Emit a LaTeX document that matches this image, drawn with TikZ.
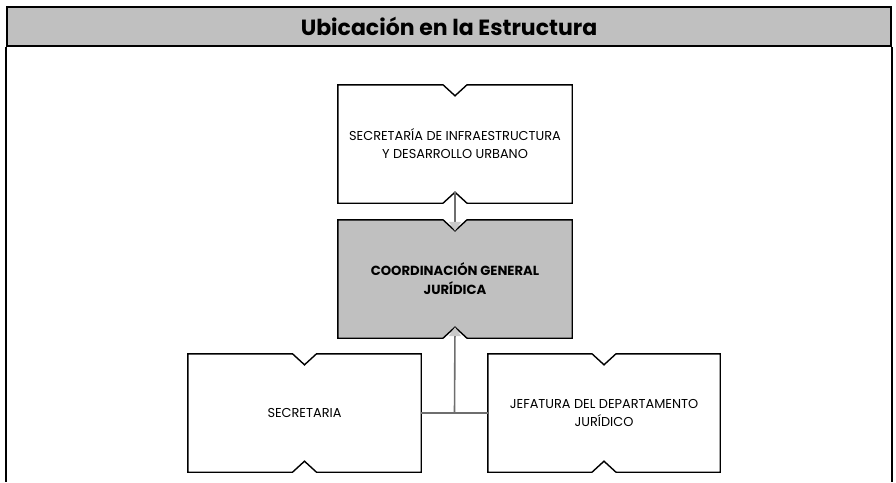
\documentclass[tikz,border=0pt]{standalone}
\usepackage{fontspec}
\setmainfont{Poppins}
\usetikzlibrary{calc,backgrounds,arrows.meta}
\definecolor{gris}{HTML}{C0C0C0}
\definecolor{lineagris}{HTML}{6E6E6E}
\tikzset{
    puesto/.style={minimum width=234pt, minimum height=118pt, inner sep=0pt, align=center,
        font=\fontsize{12.9}{18}\selectfont},
    conector/.style={draw=lineagris, line width=1.6pt},
    flecha/.style={-{Triangle[width=12pt,length=9pt,fill=gris!85,color=gris!85]}},
}

\begin{document}
\begin{tikzpicture}[x=1pt,y=-1pt]
\useasboundingbox (0,0) rectangle (896,482);
\node[draw, fill=gris, line width=1.6pt, minimum width=884pt, minimum height=39pt, inner sep=0pt,
    font=\fontsize{22}{24}\selectfont\bfseries] (titulo) at (449,26.5) {Ubicación en la Estructura};
\draw[line width=1.6pt] (titulo.south west) -- (titulo.south west |- 0,482);
\draw[line width=1.6pt] (titulo.south east) -- (titulo.south east |- 0,482);

\node[puesto] (sidu) at (455,144) {SECRETARÍA DE INFRAESTRUCTURA\\Y DESARROLLO URBANO};
\node[puesto, font=\fontsize{13.2}{19}\selectfont\bfseries] (cgj) at (455,279) {COORDINACIÓN GENERAL\\JURÍDICA};
\node[puesto, minimum width=233pt] (sec) at (304.5,413) {SECRETARIA};
\node[puesto, minimum width=232pt] (jdj) at (604,413) {JEFATURA DEL DEPARTAMENTO\\JURÍDICO};

\begin{scope}[on background layer]
\foreach \n/\c in {sidu/white,cgj/gris,sec/white,jdj/white} {
\filldraw[fill=\c, line width=1.4pt] (\n.north west) -- ($(\n.north)+(-12,0)$) -- ($(\n.north)+(0,11)$)
    -- ($(\n.north)+(12,0)$) -- (\n.north east) -- (\n.south east) -- ($(\n.south)+(12,0)$)
    -- ($(\n.south)+(0,-11)$) -- ($(\n.south)+(-12,0)$) -- (\n.south west) -- cycle;
}
\end{scope}

\coordinate (sidu-b) at ($(sidu.south)+(0,-11)$);
\coordinate (cgj-t) at ($(cgj.north)+(0,11)$);
\coordinate (cgj-b) at ($(cgj.south)+(0,-11)$);
\coordinate (union) at ($(sec.east)!0.5!(jdj.west)$);
\draw[conector, flecha] (sidu-b) -- (cgj-t);
\draw[conector] (sec.east) -- (jdj.west);
\draw[conector, flecha] (union) -- (cgj-b);
\end{tikzpicture}
\end{document}
